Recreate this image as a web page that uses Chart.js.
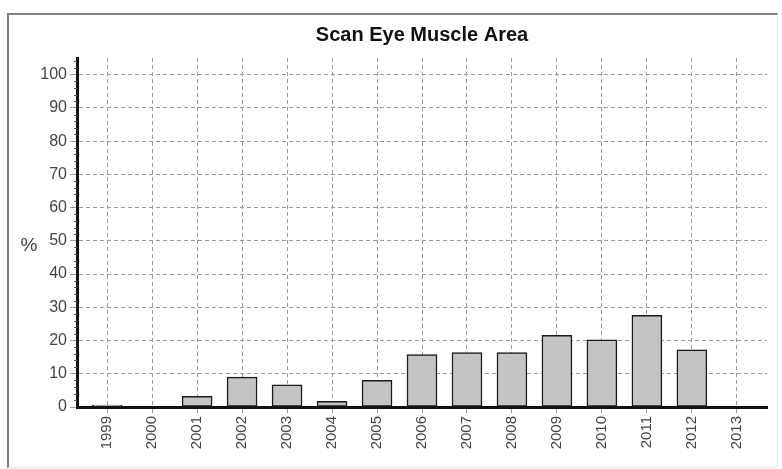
<!DOCTYPE html>
<html>
<head>
<meta charset="utf-8">
<script src="https://cdn.jsdelivr.net/npm/chart.js@4/dist/chart.umd.min.js"></script>
<style>
  html, body { margin:0; padding:0; background:#fff; }
  #wrap { position:relative; width:782px; height:469px; overflow:hidden; }
  #frame {
    position:absolute; left:7px; top:13px; width:768px; height:452px;
    border-top:2px solid #808080; border-left:2px solid #808080;
    border-right:1px solid #e4e4e4; border-bottom:1px solid #e4e4e4;
  }
  canvas { position:absolute; left:0; top:0; }
</style>
</head>
<body>
<div id="wrap">
  <div id="frame"></div>
  <canvas id="chart" width="782" height="469"></canvas>
</div>
<script>

// data
const years = [1999,2000,2001,2002,2003,2004,2005,2006,2007,2008,2009,2010,2011,2012,2013];
const values = [0.6,0,3.2,9,6.7,1.7,8,15.8,16.4,16.4,21.6,20.2,27.6,17.2,0];
const yTicks = [0,10,20,30,40,50,60,70,80,90,100];

const titleText = 'Scan Eye Muscle Area';
const yTitle = '%';

const FONT = "'Liberation Sans', Arial, sans-serif";

// title, % label and little minor ticks on the y axis
const extras = {
  id:'extras',
  afterDraw(chart){
    const ctx = chart.ctx;
    const area = chart.chartArea;
    const y = chart.scales.y;

    ctx.save();

    ctx.fillStyle = '#111';
    ctx.font = 'bold 20px ' + FONT;
    ctx.textAlign = 'center';
    ctx.textBaseline = 'middle';
    ctx.fillText(titleText, (area.left + area.right) / 2, 35);

    ctx.fillStyle = '#444';
    ctx.font = '19px ' + FONT;
    ctx.fillText(yTitle, 29, y.getPixelForValue(48.5));

    ctx.strokeStyle = '#555';
    ctx.lineWidth = 1;
    ctx.beginPath();
    for(let v = 2; v < 105; v += 2){
      if(v % 10 === 0) continue;
      const py = Math.round(y.getPixelForValue(v)) + 0.5;
      ctx.moveTo(area.left - 3, py);
      ctx.lineTo(area.left, py);
    }
    ctx.stroke();

    ctx.restore();
  }
};

new Chart(
  document.getElementById('chart'),
  {
    type:'bar',
    data:{
      datasets:[{
        data:years.map((yr,i)=>({x:yr, y:values[i]})),
        backgroundColor:'#c4c4c4',
        borderColor:'#1a1a1a',
        borderWidth:1.5,
        borderSkipped:false,
        barThickness:30
      }]
    },
    options:{
      responsive:false,
      animation:false,
      layout:{
        padding:{ top:58, right:15, bottom:0, left:0 }
      },
      plugins:{
        legend:{ display:false },
        tooltip:{ enabled:false },
        title:{ display:false }
      },
      scales:{
        x:{
          type:'linear',
          offset:false,
          bounds:'data',
          min:1998.33,
          max:2013.67,
          afterBuildTicks:axis=>{
            axis.ticks = years.map(v=>({value:v}));
          },
          afterFit:axis=>{
            axis.height = 62;
          },
          ticks:{
            stepSize:1,
            color:'#444',
            font:{ family:FONT, size:15 },
            minRotation:90,
            maxRotation:90,
            padding:3,
            autoSkip:false,
            callback:v=>String(v)
          },
          grid:{
            offset:false,
            color:'#9a9a9a',
            lineWidth:1,
            tickLength:6
          },
          border:{
            display:true,
            color:'#111',
            width:3,
            dash:[4,3]
          }
        },
        y:{
          min:0,
          max:105,
          bounds:'data',
          afterBuildTicks:axis=>{
            axis.ticks = yTicks.map(v=>({value:v}));
          },
          afterFit:axis=>{
            axis.width = 77;
          },
          ticks:{
            color:'#444',
            font:{ family:FONT, size:16 },
            padding:3
          },
          grid:{
            color:'#9a9a9a',
            lineWidth:1,
            tickLength:7
          },
          border:{
            display:true,
            color:'#111',
            width:3,
            dash:[4,3]
          }
        }
      }
    },
    plugins:[extras]
  }
);

</script>
</body>
</html>
